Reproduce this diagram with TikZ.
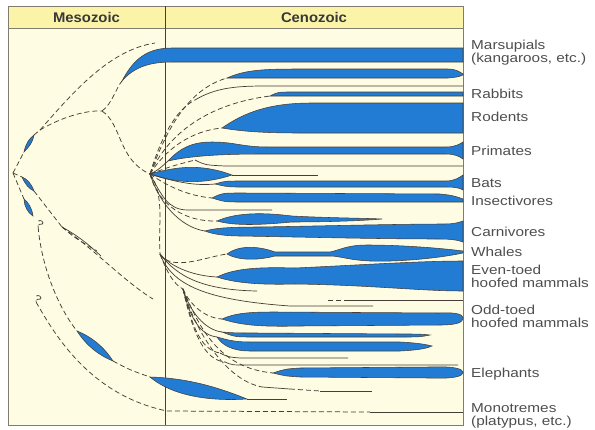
\documentclass[tikz,border=0pt]{standalone}
\usepackage{fontspec}
\usepackage{tikz}
\newfontfamily\taxonfont[FakeStretch=1.18]{Liberation Sans}
\newfontfamily\erafont[FakeStretch=1.06]{Liberation Sans}
\definecolor{paper}{RGB}{254,252,226}
\definecolor{header}{RGB}{251,243,168}
\definecolor{lineage}{RGB}{34,124,212}
\definecolor{ink}{RGB}{70,62,54}
\definecolor{rim}{RGB}{130,124,110}
\definecolor{labelgray}{RGB}{78,78,78}

\begin{document}
\begin{tikzpicture}[x=1pt,y=-1pt,
    spindle/.style={fill=lineage,draw=ink,line width=0.55pt},
    branch/.style={draw=ink,line width=0.7pt},
    guess/.style={branch,line width=0.75pt,dash pattern=on 5pt off 3pt},
    taxon/.style={anchor=base west,inner sep=0pt,text=labelgray,font=\taxonfont\taxonsize},
    era/.style={anchor=base,inner sep=0pt,text=black!78,font=\erafont\bfseries\erasize},
    query/.style={inner sep=0pt,text=ink,rotate=-30,font=\taxonfont\querysize}]
    \pgfmathsetmacro{\frameleft}{8}
    \pgfmathsetmacro{\frameright}{463}
    \pgfmathsetmacro{\frametop}{6}
    \pgfmathsetmacro{\framebottom}{425}
    \pgfmathsetmacro{\headerbottom}{28}
    \pgfmathsetmacro{\eraline}{165}
    \pgfmathsetmacro{\labelx}{471}
    \providecommand{\taxonsize}{\fontsize{13}{13}\selectfont}
    \providecommand{\erasize}{\fontsize{14}{14}\selectfont}
    \providecommand{\querysize}{\fontsize{10}{10}\selectfont}
    \useasboundingbox (0,0) rectangle (595,429);
    \fill[paper] (\frameleft,\frametop) rectangle (\frameright,\framebottom);
    \fill[header] (\frameleft,\frametop) rectangle (\frameright,\headerbottom);
    \draw[rim,line width=0.8pt] (\frameleft,\frametop) rectangle (\frameright,\framebottom);
    \draw[rim,line width=0.8pt] (\frameleft,\headerbottom) -- (\frameright,\headerbottom);
    \draw[ink,line width=0.7pt] (\eraline,\frametop) -- (\eraline,\framebottom);
    \node[era] (mesozoic) at ({(\frameleft+\eraline)/2},22) {Mesozoic};
    \node[era] (cenozoic) at ({(\eraline+\frameright)/2},22) {Cenozoic};

    % branching points
    \coordinate (root) at (13,173);
    \coordinate (fork) at (40,130);
    \coordinate (split) at (102,111);
    \coordinate (lost) at (155,43);
    \coordinate (hub) at (150,174);
    \coordinate (hubB) at (160,254);
    \coordinate (hubC) at (183,289);
    \coordinate (knot) at (62,227);

    % early Mesozoic stems
    \coordinate (leafAin) at (24,152); \coordinate (leafAout) at (34,135);
    \coordinate (leafBin) at (22,177); \coordinate (leafBout) at (34,191);
    \coordinate (leafCin) at (24,199); \coordinate (leafCout) at (33,216);
    \draw[guess] (root) -- (leafAin);
    \draw[spindle] (leafAin) .. controls (26,143) and (29,139) .. (leafAout) .. controls (33,142) and (29,147) .. (leafAin) -- cycle;
    \draw[guess] (leafAout) -- (fork);
    \draw[guess] (fork) .. controls (75,90) and (110,50) .. (lost);
    \draw[guess] (fork) .. controls (60,118) and (85,110) .. (split);
    \draw[guess] (root) -- (leafBin);
    \draw[spindle] (leafBin) .. controls (27,179) and (31,183) .. (leafBout) .. controls (29,189) and (25,184) .. (leafBin) -- cycle;
    \draw[guess] (leafBout) -- (knot);
    \draw[guess] (root) .. controls (18,186) .. (leafCin);
    \draw[spindle] (leafCin) .. controls (28,202) and (32,208) .. (leafCout) .. controls (28,213) and (24,206) .. (leafCin) -- cycle;
    \coordinate (stubA) at (97,251);
    \coordinate (stubB) at (101,256);
    \coordinate (stubC) at (153,299);
    \draw[guess] (knot) .. controls (75,238) .. (stubA);
    \draw[branch] (knot) .. controls (82,238) and (92,248) .. (stubB);
    \draw[guess] (knot) .. controls (95,250) and (125,282) .. (stubC);

    % marsupials
    \coordinate (marsTip) at (122,81);
    \draw[guess] (split) .. controls (112,104) and (116,88) .. (marsTip);
    \draw[guess] (split) .. controls (122,124) and (118,160) .. (hub);
    \draw[spindle] (marsTip) .. controls (134,58) and (148,48) .. (172,48) -- (\frameright,48) -- (\frameright,62) -- (172,62) .. controls (150,62) and (134,67) .. (marsTip) -- cycle;

    % lineages out of the hub
    \coordinate (t2) at (227,78);
    \coordinate (t3) at (195,100);
    \coordinate (t4) at (270,96);
    \coordinate (t5) at (222,128);
    \coordinate (t6) at (168,161);
    \coordinate (t7) at (195,160);
    \coordinate (blobEnd) at (232,175);
    \coordinate (stub8) at (318,175);
    \coordinate (t9) at (215,184);
    \coordinate (t10) at (212,198);
    \coordinate (stub11) at (272,210);
    \coordinate (t12) at (217,221);
    \coordinate (t12end) at (382,219);
    \coordinate (t13) at (205,231);
    \draw[guess] (hub) .. controls (165,135) and (185,90) .. (t2);
    \draw[spindle] (t2) .. controls (245,70) and (262,69) .. (300,69) -- (448,69) .. controls (456,69) and (460,72) .. (463,74) -- (463,75) .. controls (458,77) .. (448,78) -- cycle;
    \draw[guess] (hub) .. controls (160,140) and (175,110) .. (t3);
    \draw[branch] (t3) .. controls (215,88) and (235,86) .. (265,86) -- (\frameright,86);
    \draw[guess] (hub) .. controls (165,140) and (200,105) .. (t4);
    \draw[spindle] (t4) .. controls (278,92) .. (292,92) -- (\frameright,92) -- (\frameright,96) -- cycle;
    \draw[guess] (hub) .. controls (165,150) and (190,131) .. (t5);
    \draw[spindle] (t5) .. controls (245,112) and (270,103) .. (312,103) -- (\frameright,103) -- (\frameright,133) -- (300,133) .. controls (260,133) and (240,131) .. (t5) -- cycle;
    \draw[branch] (hub) .. controls (158,170) .. (t6);
    \draw[spindle] (t6) .. controls (180,148) and (192,142) .. (212,142) .. controls (235,142) and (242,147) .. (268,147) -- (446,147) .. controls (455,147) and (460,144) .. (463,142) -- (463,159) .. controls (459,156) and (454,154) .. (446,154) -- (262,154) .. controls (220,154) and (190,156) .. (t6) -- cycle;
    \draw[guess] (hub) .. controls (172,166) .. (t7);
    \draw[branch] (t7) .. controls (205,165) .. (225,166) -- (\frameright,166);
    \draw[spindle] (hub) .. controls (175,167) and (200,163) .. (blobEnd) .. controls (205,184) and (178,184) .. (hub) -- cycle;
    \draw[branch] (blobEnd) -- (stub8);
    \draw[branch] (hub) .. controls (175,182) and (195,186) .. (t9);
    \draw[spindle] (t9) .. controls (225,181) .. (242,181) -- (446,181) .. controls (455,181) and (460,177) .. (463,175) -- (463,190) .. controls (460,188) and (455,187) .. (446,187) -- (242,187) .. controls (228,187) .. (t9) -- cycle;
    \draw[guess] (hub) .. controls (170,188) and (190,196) .. (t10);
    \draw[spindle] (t10) .. controls (222,193) .. (242,193) -- (440,194) .. controls (452,195) and (458,197) .. (463,199) -- (463,202) -- (242,202) .. controls (225,202) .. (t10) -- cycle;
    \draw[branch] (hub) .. controls (162,196) and (168,210) .. (188,210) -- (stub11);
    \draw[guess] (hub) .. controls (158,205) and (185,222) .. (t12);
    \draw[spindle] (t12) .. controls (235,213) and (260,212) .. (292,216) .. controls (330,218) and (360,218) .. (t12end) .. controls (360,221) and (320,222) .. (292,222) .. controls (260,225) and (235,226) .. (t12) -- cycle;
    \draw[branch] (hub) .. controls (162,210) and (185,228) .. (t13);
    \draw[spindle] (t13) .. controls (215,228) and (230,227) .. (260,227) .. controls (320,226) and (400,224) .. (445,224) .. controls (455,224) and (460,222) .. (463,221) -- (463,242) .. controls (458,240) and (450,239) .. (440,239) .. controls (380,239) and (300,237) .. (240,236) .. controls (225,236) and (212,234) .. (t13) -- cycle;
    \draw[guess] (hub) .. controls (165,195) and (158,225) .. (hubB);

    % second cluster
    \coordinate (t14) at (227,254);
    \coordinate (t15) at (217,277);
    \coordinate (stub16) at (257,291);
    \coordinate (stub17) at (373,306);
    \coordinate (float18) at (328,300);
    \coordinate (join18) at (346,300);
    \draw[guess] (hubB) .. controls (172,272) and (205,257) .. (t14);
    \draw[spindle] (t14) .. controls (237,246) and (256,245) .. (275,252) -- (330,252) .. controls (340,250) and (347,245) .. (367,245) .. controls (400,245) and (440,248) .. (463,251) -- (463,253) .. controls (440,258) and (400,262) .. (370,261) .. controls (348,260) and (340,256) .. (330,256) -- (275,256) .. controls (256,261) and (237,260) .. (t14) -- cycle;
    \draw[branch] (hubB) .. controls (172,268) and (195,276) .. (t15);
    \draw[spindle] (t15) .. controls (235,268) and (260,267) .. (295,268) .. controls (360,265) and (420,261) .. (463,261) -- (463,291) .. controls (420,291) and (370,285) .. (295,284) .. controls (260,285) and (235,283) .. (t15) -- cycle;
    \draw[branch] (hubB) .. controls (178,278) and (205,290) .. (stub16);
    \draw[branch] (hubB) .. controls (172,285) and (205,300) .. (290,306) -- (stub17);
    \draw[guess] (float18) -- (join18);
    \draw[branch] (join18) -- (\frameright,300);
    \draw[guess] (hubB) .. controls (168,275) and (175,285) .. (hubC);

    % third cluster
    \coordinate (t19) at (222,319);
    \coordinate (t20) at (222,332);
    \coordinate (t21) at (217,337);
    \coordinate (t22) at (220,353);
    \coordinate (stub22) at (348,358);
    \coordinate (t23) at (225,362);
    \coordinate (stub23) at (458,365);
    \coordinate (t24) at (273,373);
    \coordinate (t25) at (262,387);
    \coordinate (gap25) at (290,389);
    \coordinate (join25) at (320,391);
    \coordinate (stub25) at (372,391);
    \draw[guess] (hubC) .. controls (190,305) and (205,318) .. (t19);
    \draw[spindle] (t19) .. controls (235,313) and (250,312) .. (275,312) -- (440,313) .. controls (458,312) and (463,315) .. (463,318) .. controls (463,322) and (458,325) .. (440,325) -- (300,326) .. controls (260,327) and (240,325) .. (t19) -- cycle;
    \draw[branch] (hubC) .. controls (190,312) and (205,330) .. (t20);
    \draw[spindle] (t20) .. controls (235,333) .. (255,333) -- (400,334) .. controls (420,334) .. (430,335) .. controls (420,337) .. (400,337) -- (255,337) .. controls (235,337) .. (t20) -- cycle;
    \draw[branch] (hubC) .. controls (190,318) and (200,335) .. (t21);
    \draw[spindle] (t21) .. controls (225,339) and (232,342) .. (250,342) -- (400,342) .. controls (420,343) and (428,345) .. (432,346) .. controls (428,348) and (420,350) .. (400,351) -- (250,351) .. controls (232,351) and (222,345) .. (t21) -- cycle;
    \draw[guess] (hubC) .. controls (192,325) and (200,350) .. (t22);
    \draw[branch] (t22) .. controls (228,357) .. (240,358) -- (stub22);
    \draw[guess] (hubC) .. controls (193,335) and (205,360) .. (t23);
    \draw[branch] (t23) .. controls (232,365) .. (245,365) -- (stub23);
    \draw[guess] (hubC) .. controls (200,330) and (220,368) .. (t24);
    \draw[spindle] (t24) .. controls (285,369) .. (300,368) -- (430,367) .. controls (455,366) and (463,369) .. (463,372.5) .. controls (463,376) and (455,379) .. (430,378) -- (300,377) .. controls (285,376) .. (t24) -- cycle;
    \draw[guess] (hubC) .. controls (195,330) and (225,380) .. (t25);
    \draw[branch] (t25) -- (gap25);
    \draw[guess] (gap25) -- (join25);
    \draw[branch] (join25) -- (stub25);

    % elephant stem and monotremes
    \node[query] (queryA) at (40,224) {?};
    \node[query] (queryB) at (38,299) {?};
    \coordinate (probA) at (77,331);
    \coordinate (probB) at (113,361);
    \coordinate (mastA) at (150,377);
    \coordinate (mastB) at (247,399);
    \coordinate (stubM) at (287,399);
    \coordinate (monoBend) at (167,411);
    \coordinate (monoJoin) at (370,412);
    \draw[guess] (queryA.south) .. controls (42,270) and (60,310) .. (probA);
    \draw[spindle] (probA) .. controls (92,337) and (104,347) .. (probB) .. controls (98,355) and (86,345) .. (probA) -- cycle;
    \draw[guess] (probB) .. controls (130,370) .. (mastA);
    \draw[spindle] (mastA) .. controls (185,378) and (215,386) .. (mastB) .. controls (215,401) and (175,398) .. (mastA) -- cycle;
    \draw[branch] (mastB) -- (stubM);
    \draw[guess] (queryB.south) .. controls (55,335) and (90,395) .. (monoBend) -- (monoJoin);
    \draw[branch] (monoJoin) -- (\frameright,412);

    % names
    \node[taxon] (marsupials) at (\labelx,49) {Marsupials};
    \node[taxon] (kangaroos) at (\labelx,62) {(kangaroos, etc.)};
    \node[taxon] (rabbits) at (\labelx,98) {Rabbits};
    \node[taxon] (rodents) at (\labelx,121) {Rodents};
    \node[taxon] (primates) at (\labelx,155) {Primates};
    \node[taxon] (bats) at (\labelx,187) {Bats};
    \node[taxon] (insectivores) at (\labelx,205) {Insectivores};
    \node[taxon] (carnivores) at (\labelx,236) {Carnivores};
    \node[taxon] (whales) at (\labelx,256) {Whales};
    \node[taxon] (eventoed) at (\labelx,274) {Even-toed};
    \node[taxon] (evenhoofed) at (\labelx,287) {hoofed mammals};
    \node[taxon] (oddtoed) at (\labelx,314) {Odd-toed};
    \node[taxon] (oddhoofed) at (\labelx,327) {hoofed mammals};
    \node[taxon] (elephants) at (\labelx,377) {Elephants};
    \node[taxon] (monotremes) at (\labelx,412) {Monotremes};
    \node[taxon] (platypus) at (\labelx,425) {(platypus, etc.)};
\end{tikzpicture}
\end{document}
